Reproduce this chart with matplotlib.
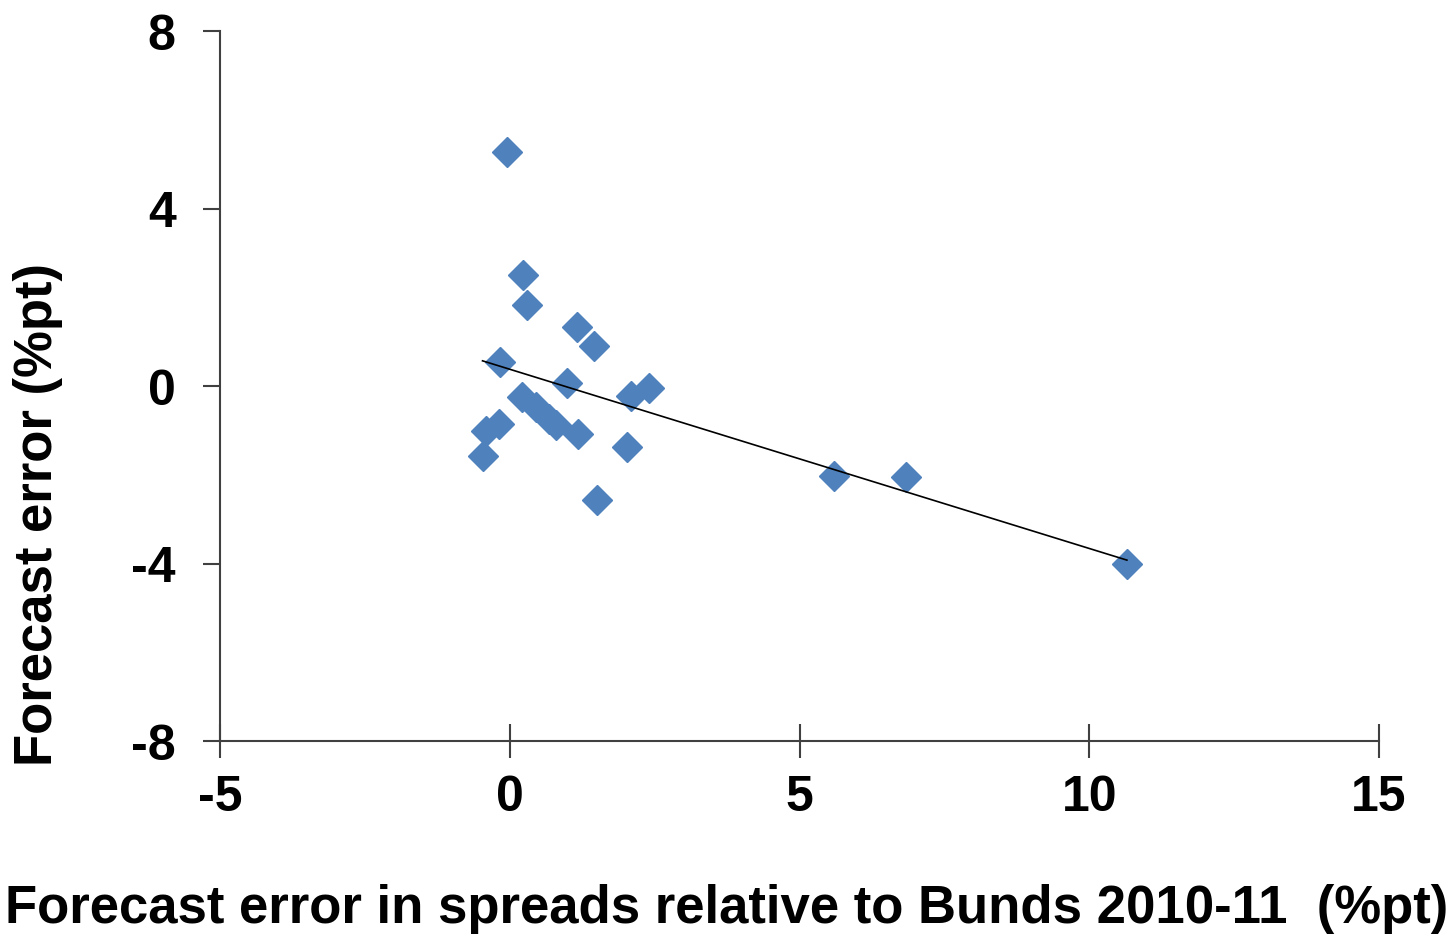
import matplotlib
matplotlib.use('Agg')
import matplotlib.pyplot as plt
import numpy as np

# values
spread_err = [-0.04, 0.23, 0.30, 1.16, 1.45, -0.17, 0.99, 2.09, 2.40, 0.22, 0.45,
              0.68, 0.79, 1.17, -0.18, -0.41, -0.47, 2.02, 1.51, 5.60, 6.84, 10.65]
forecast_err = [5.28, 2.50, 1.83, 1.32, 0.91, 0.55, 0.06, -0.22, -0.05, -0.25, -0.48,
                -0.74, -0.89, -1.08, -0.86, -1.01, -1.57, -1.38, -2.58, -2.02, -2.06, -4.01]
x_ticks = [-5, 0, 5, 10, 15]
y_ticks = [-8, -4, 0, 4, 8]

plt.rcParams['font.family'] = ['Liberation Sans', 'DejaVu Sans']
plt.rcParams['font.weight'] = 'bold'
plt.rcParams['axes.unicode_minus'] = False

fig = plt.figure(figsize=(14.53, 9.37), dpi=100)
ax = fig.add_axes([220 / 1453, 1 - 742 / 937, 1159 / 1453, 710 / 937])

ax.plot(spread_err, forecast_err, linestyle='none', marker='D', ms=15,
        color='#4F81BD', mec='#4F81BD', zorder=3)

# linear trend
coef = np.polyfit(spread_err, forecast_err, 1)
xs = np.array([min(spread_err), max(spread_err)])
ax.plot(xs, np.polyval(coef, xs), color='black', lw=1.2, zorder=4)

ax.set_xlim(-5, 15)
ax.set_ylim(-8, 8)
ax.set_xticks(x_ticks)
ax.set_yticks(y_ticks)
ax.tick_params(axis='x', direction='inout', length=24, width=1.5, color='#404040',
               labelsize=36, pad=12)
ax.tick_params(axis='y', direction='out', length=12, width=1.5, color='#404040',
               labelsize=36, pad=20)
for s in ['top', 'right']:
    ax.spines[s].set_visible(False)
for s in ['left', 'bottom']:
    ax.spines[s].set_linewidth(1.5)
    ax.spines[s].set_color('#404040')

ax.set_xlabel('Forecast error in spreads relative to Bunds 2010-11  (%pt)',
              fontsize=38, fontweight='bold')
ax.xaxis.set_label_coords(0.4375, -0.20)
ax.set_ylabel('Forecast error (%pt)', fontsize=38, fontweight='bold')
ax.yaxis.set_label_coords(-0.1355, 0.32)

fig.savefig('out.png', dpi=100)
